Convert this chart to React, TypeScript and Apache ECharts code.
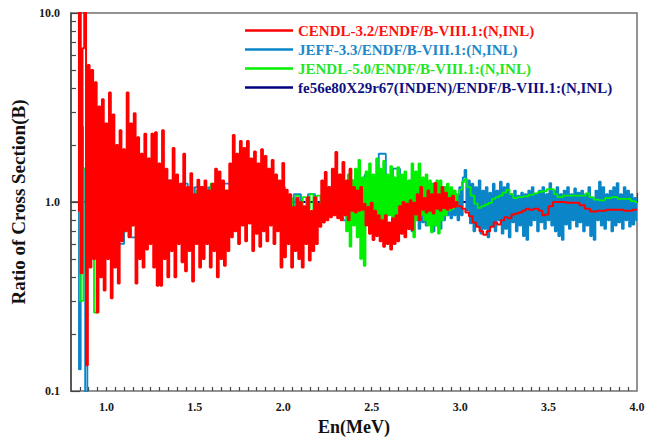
import React, { useEffect, useRef } from "react";
import * as echarts from "echarts";

const seriesNames = [
  "CENDL-3.2/ENDF/B-VIII.1:(N,INL)",
  "JEFF-3.3/ENDF/B-VIII.1:(N,INL)",
  "JENDL-5.0/ENDF/B-VIII.1:(N,INL)",
  "fe56e80X29r67(INDEN)/ENDF/B-VIII.1:(N,INL)",
];
const seriesColors = ["#ff0000", "#0a86c8", "#00f000", "#000080"];
const legendTextColors = ["#ff1010", "#1e88c8", "#22e622", "#101080"];

const xTickLabels = [1.0, 1.5, 2.0, 2.5, 3.0, 3.5, 4.0];
const yMinorTickValues = [0.2, 0.3, 0.4, 0.5, 0.6, 0.7, 0.8, 0.9, 2, 3, 4, 5, 6, 7, 8, 9];

// CENDL/ENDF — noisy part, energies 0.84 .. 2.99 MeV, step 0.01
const redNoisyStart = 0.84;
const redNoisyStep = 0.01;
const redNoisy = [
  0.9, 12, 0.42, 6.5, 12, 0.137, 5.3, 0.45, 5.0, 0.5,
  4.3, 0.26, 3.2, 0.4, 3.5, 0.34, 2.6, 0.5, 3.8, 0.31,
  2.9, 0.45, 2.0, 0.37, 2.4, 0.62, 1.9, 0.7, 3.8, 0.65,
  2.6, 0.75, 2.95, 0.37, 2.2, 0.5, 1.8, 0.45, 2.3, 0.56,
  1.7, 0.6, 2.3, 0.45, 2.34, 0.36, 1.6, 0.36, 2.4, 0.5,
  1.5, 0.4, 1.3, 0.55, 1.93, 0.4, 1.4, 0.6, 1.25, 0.48,
  1.8, 0.43, 1.2, 0.55, 1.42, 0.38, 1.1, 0.6, 1.31, 0.45,
  1.2, 0.5, 1.3, 0.6, 1.15, 0.45, 1.25, 0.55, 1.5, 0.4,
  1.45, 0.5, 1.3, 0.46, 1.15, 0.55, 1.6, 0.65, 2.26, 0.7,
  1.8, 0.6, 2.1, 0.75, 1.93, 0.62, 2.1, 0.77, 1.7, 0.55,
  1.85, 0.68, 1.6, 0.58, 1.9, 0.7, 1.75, 0.62, 1.5, 0.75,
  1.67, 0.6, 1.4, 0.7, 1.3, 0.45, 1.61, 0.51, 1.16, 0.6,
  1.1, 0.45, 0.94, 0.55, 1.05, 0.5, 1.0, 0.45, 0.95, 0.6,
  1.06, 0.49, 0.9, 0.55, 1.06, 0.6, 0.98, 0.74, 1.3, 0.78,
  1.44, 0.8, 1.2, 0.83, 1.5, 0.85, 1.84, 0.82, 1.4, 0.8,
  1.63, 0.85, 1.3, 0.8, 1.5, 0.9, 1.2, 0.88, 1.15, 0.9,
  1.2, 0.91, 0.98, 0.75, 0.94, 0.68, 0.99, 0.63, 0.9, 0.66,
  0.85, 0.62, 0.8, 0.58, 0.85, 0.6, 0.78, 0.56, 0.82, 0.6,
  0.85, 0.62, 0.95, 0.68, 1.0, 0.65, 0.98, 0.72, 1.02, 0.71,
  0.99, 0.86, 1.1, 0.8, 1.2, 0.91, 1.05, 0.88, 1.15, 0.9,
  1.1, 0.87, 1.26, 0.92, 1.1, 0.9, 1.2, 0.93, 1.12, 0.91,
  1.05, 0.93, 1.08, 0.94, 1.0, 0.95,
];
// CENDL/ENDF — smooth part above 3 MeV
const redSmooth: [number, number][] = [
  [3.0, 0.95], [3.02, 0.92], [3.04, 0.88], [3.06, 0.84], [3.08, 0.78], [3.1, 0.74],
  [3.12, 0.7], [3.14, 0.67], [3.16, 0.7], [3.18, 0.74], [3.2, 0.78], [3.22, 0.76],
  [3.24, 0.8], [3.26, 0.83], [3.28, 0.82], [3.3, 0.86], [3.32, 0.87], [3.34, 0.88],
  [3.36, 0.9], [3.38, 0.92], [3.4, 0.91], [3.43, 0.92], [3.46, 0.9], [3.47, 0.85],
  [3.49, 0.86], [3.51, 0.95], [3.54, 1.0], [3.58, 1.0], [3.62, 0.99], [3.66, 0.99],
  [3.69, 0.96], [3.72, 0.92], [3.75, 0.89], [3.8, 0.9], [3.85, 0.91], [3.9, 0.91],
  [3.95, 0.9], [4.0, 0.91],
];

// JEFF/ENDF
const blueStartPairs: [number, number][] = [
  [0.84, 1.0], [0.85, 0.13], [0.86, 2.5], [0.875, 1.5], [0.885, 0.095], [0.9, 2.0],
];
const blueLowStart = 0.92;
const blueLowStep = 0.04;
const blueLow = [
  0.6, 1.8, 0.55, 1.7, 0.6, 1.5, 0.65, 1.4, 0.7, 1.35,
  0.7, 1.3, 0.75, 1.25, 0.8, 1.2, 0.8, 1.2, 0.8, 1.25,
  0.85, 1.2, 0.85, 1.15, 0.85, 1.15, 0.9, 1.12, 0.9, 1.1,
  0.9, 1.1, 0.92, 1.12, 0.88, 1.2, 0.8, 1.3, 0.69, 1.39,
  0.75, 1.8, 0.7, 1.5, 0.72,
];
const blueHighStart = 2.7;
const blueHighStep = 0.01;
const blueHigh = [
  1.2, 0.75, 1.3, 0.7, 1.25, 0.8, 1.35, 0.72, 1.2, 0.78,
  1.3, 0.75, 1.2, 0.8, 1.25, 0.7, 1.15, 0.75, 1.2, 0.72,
  1.15, 0.8, 1.2, 0.85, 1.1, 0.82, 1.15, 0.85, 1.1, 0.8,
  1.2, 0.85, 1.35, 1.48, 0.9, 1.3, 0.77, 1.25, 0.7, 1.2,
  0.75, 1.3, 0.68, 1.15, 0.72, 1.2, 0.65, 1.12, 0.75, 1.25,
  0.7, 1.15, 0.8, 1.28, 0.68, 1.2, 0.72, 1.25, 0.65, 1.1,
  0.78, 1.15, 0.7, 1.08, 0.75, 1.12, 0.66, 1.1, 0.63, 1.15,
  0.75, 1.2, 0.8, 1.1, 0.7, 1.15, 0.78, 1.2, 0.72, 1.1,
  0.8, 1.26, 0.75, 1.15, 0.7, 1.2, 0.66, 1.1, 0.63, 1.15,
  0.76, 1.2, 0.72, 1.1, 0.8, 1.18, 0.74, 1.12, 0.78, 1.15,
  0.7, 1.1, 0.75, 1.2, 0.66, 1.05, 0.63, 1.15, 0.8, 1.28,
  0.75, 1.2, 0.72, 1.1, 0.8, 1.15, 0.7, 1.2, 0.75, 1.26,
  0.78, 1.1, 0.72, 1.2, 0.8, 1.15, 0.74, 1.1, 0.76, 1.05,
  0.8,
];

// JENDL/ENDF
const greenLowStart = 0.84;
const greenLowStep = 0.02;
const greenLow = [
  3.8, 0.3, 1.5, 0.6, 1.8, 0.26, 1.6, 0.5, 1.5, 0.6,
  1.4, 0.65, 1.3, 0.7, 1.35, 0.75, 1.3, 0.7, 1.2, 0.8,
  1.25, 0.75, 1.2, 0.8, 1.3, 0.8, 1.25, 0.85, 1.2, 0.8,
  1.15, 0.85, 1.2, 0.8, 1.15, 0.85, 1.2, 0.9, 1.25, 0.85,
  1.18, 0.9, 1.15, 0.85, 1.2, 0.9, 1.15, 0.85, 1.2, 0.9,
  1.1, 0.9, 1.15, 0.88, 1.1, 0.92, 1.12, 0.85, 1.2, 0.9,
  1.05, 0.92, 1.08, 0.95, 1.06, 0.92, 1.1, 0.9, 1.08, 0.95,
  1.1, 0.9, 1.12, 0.92,
];
const greenMidStart = 2.31;
const greenMidStep = 0.01;
const greenMid = [
  1.1, 0.9, 1.15, 0.85, 1.2, 0.7, 1.4, 0.58, 1.3, 0.75,
  1.5, 0.65, 1.67, 0.5, 1.35, 0.46, 1.45, 0.8, 1.6, 0.75,
  1.4, 0.85, 1.7, 0.71, 1.5, 0.8, 1.65, 0.75, 1.4, 0.85,
  1.55, 0.78, 1.35, 0.82, 1.53, 0.78, 1.4, 0.9, 1.45, 0.8,
  1.3, 0.75, 1.6, 0.65, 1.45, 0.8, 1.6, 0.85, 1.35, 0.8,
  1.4, 0.75, 1.3, 0.69, 1.25, 0.75, 1.3, 0.68, 1.3, 0.8,
  1.2, 0.85, 1.25, 0.9, 1.2, 0.92, 1.15, 0.95, 1.1,
];
const greenSmooth: [number, number][] = [
  [3.0, 1.16], [3.02, 1.28], [3.03, 1.32], [3.05, 1.2], [3.07, 1.08], [3.09, 0.98],
  [3.11, 0.93], [3.13, 0.95], [3.15, 0.97], [3.17, 0.99], [3.19, 1.04], [3.21, 1.06],
  [3.23, 1.08], [3.25, 1.12], [3.27, 1.16], [3.29, 1.1], [3.31, 1.05], [3.34, 1.06],
  [3.37, 1.07], [3.4, 1.09], [3.43, 1.11], [3.45, 1.13], [3.48, 1.14], [3.5, 1.17],
  [3.52, 1.17], [3.54, 1.1], [3.56, 1.06], [3.6, 1.08], [3.65, 1.08], [3.7, 1.08],
  [3.72, 1.11], [3.74, 1.06], [3.77, 1.03], [3.8, 1.02], [3.84, 1.05], [3.87, 1.06],
  [3.91, 1.04], [3.95, 1.04], [3.98, 1.01], [4.0, 1.0],
];

// fe56e80X29r67(INDEN)/ENDF
const navyPairs: [number, number][] = [[0.84, 1.0], [4.0, 1.0]];

function onGrid(start: number, step: number, values: number[]): [number, number][] {
  return values.map((v, i) => [Math.round((start + i * step) * 1000) / 1000, v]);
}

const FONT = "'Liberation Serif', 'Times New Roman', serif";

export default function App() {
  const ref = useRef<HTMLDivElement>(null);
  useEffect(() => {
    if (!ref.current) return;
    const chart = echarts.init(ref.current, undefined, { renderer: "svg" });

    const redData = [...onGrid(redNoisyStart, redNoisyStep, redNoisy), ...redSmooth];
    const blueData = [
      ...blueStartPairs,
      ...onGrid(blueLowStart, blueLowStep, blueLow),
      ...onGrid(blueHighStart, blueHighStep, blueHigh),
    ];
    const greenData = [
      ...onGrid(greenLowStart, greenLowStep, greenLow),
      ...onGrid(greenMidStart, greenMidStep, greenMid),
      ...greenSmooth,
    ];

    const xMinorTicks: number[] = [];
    for (let i = 1; i < 64; i++) xMinorTicks.push(Math.round((0.8 + i * 0.05) * 100) / 100);

    const lineSeries = (idx: number, data: [number, number][], width: number, step: boolean) => ({
      name: seriesNames[idx],
      type: "line",
      data,
      step: step ? "middle" : false,
      showSymbol: false,
      symbol: "none",
      lineStyle: { color: seriesColors[idx], width },
      itemStyle: { color: seriesColors[idx] },
      clip: true,
      xAxisIndex: 0,
      yAxisIndex: 0,
    });

    chart.setOption({
      animation: false,
      backgroundColor: "#ffffff",
      grid: {
        left: 71,
        right: 17,
        top: 13,
        bottom: 48,
        show: true,
        borderColor: "#707070",
        borderWidth: 1.5,
        backgroundColor: "transparent",
        outerBoundsMode: "none",
      },
      legend: {
        orient: "vertical",
        left: 245,
        top: 23,
        padding: 0,
        itemWidth: 48,
        itemHeight: 2.5,
        itemGap: 4,
        icon: "rect",
        selectedMode: false,
        data: seriesNames.map((n, i) => ({
          name: n,
          textStyle: { color: legendTextColors[i] },
        })),
        textStyle: { fontFamily: FONT, fontWeight: "bold", fontSize: 15 },
      },
      xAxis: [
        {
          type: "value",
          min: 0.8,
          max: 4.0,
          position: "bottom",
          name: "En(MeV)",
          nameLocation: "middle",
          nameGap: 26,
          nameTextStyle: { fontFamily: FONT, fontWeight: "bold", fontSize: 18, color: "#111" },
          axisLine: { show: true, lineStyle: { color: "#444", width: 1.5 } },
          axisTick: { show: true, inside: true, length: 9, customValues: xTickLabels, lineStyle: { color: "#444", width: 1.2 } },
          axisLabel: {
            customValues: xTickLabels,
            formatter: (v: number) => v.toFixed(1),
            fontFamily: FONT,
            fontWeight: "bold",
            fontSize: 12,
            color: "#1a1a1a",
            margin: 10,
          },
          splitLine: { show: false },
        },
        {
          type: "value",
          min: 0.8,
          max: 4.0,
          position: "bottom",
          axisLine: { show: false },
          axisTick: { show: true, inside: true, length: 4, customValues: xMinorTicks, lineStyle: { color: "#444", width: 1.2 } },
          axisLabel: { show: false },
          splitLine: { show: false },
        },
      ],
      yAxis: [
        {
          type: "log",
          logBase: 10,
          min: 0.1,
          max: 10,
          name: "Ratio of Cross Section(B)",
          nameLocation: "middle",
          nameGap: 40,
          nameTextStyle: { fontFamily: FONT, fontWeight: "bold", fontSize: 19, color: "#111" },
          axisLine: { show: true, lineStyle: { color: "#444", width: 1.5 } },
          axisTick: { show: true, inside: true, length: 9, lineStyle: { color: "#444", width: 1.2 } },
          axisLabel: {
            formatter: (v: number) => v.toFixed(1),
            fontFamily: FONT,
            fontWeight: "bold",
            fontSize: 12,
            color: "#1a1a1a",
            margin: 11,
          },
          splitLine: { show: false },
        },
        {
          type: "value",
          min: -1,
          max: 1,
          position: "left",
          axisLine: { show: false },
          axisTick: {
            show: true,
            inside: true,
            length: 5,
            customValues: yMinorTickValues.map((v) => Math.log10(v)),
            lineStyle: { color: "#444", width: 1.2 },
          },
          axisLabel: { show: false },
          splitLine: { show: false },
        },
      ],
      series: [
        lineSeries(3, navyPairs, 2, false),
        lineSeries(1, blueData, 1.8, true),
        lineSeries(2, greenData, 1.8, true),
        lineSeries(0, redData, 2, true),
      ],
    });
    return () => chart.dispose();
  }, []);
  return (
    <div
      ref={ref}
      style={{ position: "fixed", left: 0, top: 0, width: 654, height: 439, background: "#fff" }}
    />
  );
}
